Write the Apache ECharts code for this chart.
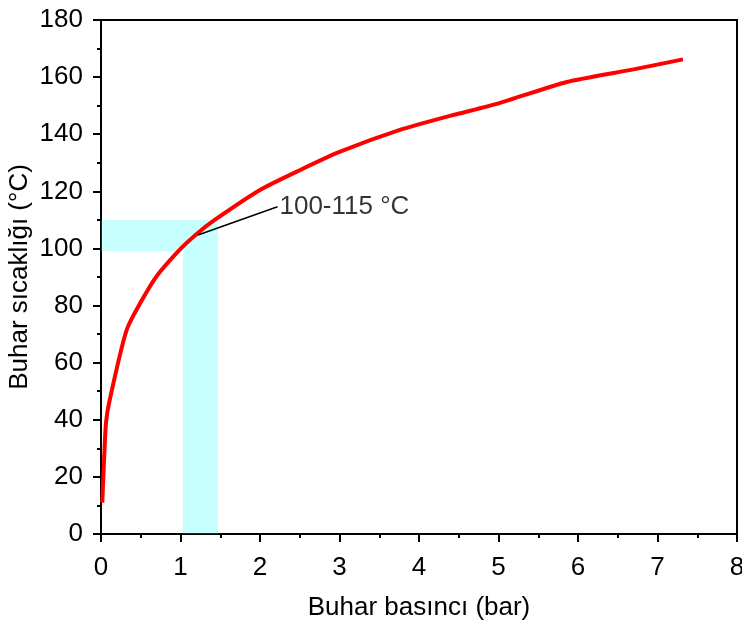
<!DOCTYPE html>
<html>
<head>
<meta charset="utf-8">
<script src="https://cdn.jsdelivr.net/npm/echarts@6/dist/echarts.min.js"></script>
<style>
  html, body { margin: 0; padding: 0; background: #fff; }
  #chart { width: 742px; height: 624px; }
</style>
</head>
<body>
<div id="chart"></div>
<script>
// buhar basıncı (bar) ve buhar sıcaklığı (°C)
const pressure = [0.016, 0.04, 0.063, 0.11, 0.33, 0.68, 0.97, 1.2, 1.43, 2.0, 2.5, 3.0, 3.76, 4.4, 5.0, 5.86, 6.7, 7.32]
const temperature = [11, 27, 39, 47, 72, 89.5, 99, 105, 110, 120.5, 127.4, 133.8, 141.5, 146.5, 150.8, 158.3, 162.7, 166.2]

// vurgulanan bölge
const bandX = [1.03, 1.47]
const bandY = [99, 110]

// açıklama çizgisi
const notePoints = [[1.22, 104.7], [2.22, 114.6]]
const noteText = '100-115 °C'

const xTicks = [0, 8, 1]
const yTicks = [0, 180, 20]

const font = '"Liberation Sans", Arial, sans-serif'
const chart = echarts.init(document.getElementById('chart'))

const axisCommon = {
  axisLine: { show: true, onZero: false, lineStyle: { color: '#000', width: 2 } },
  axisTick: { show: true, inside: false, length: 8, lineStyle: { color: '#000', width: 2 } },
  minorTick: { show: true, splitNumber: 2, length: 4, lineStyle: { color: '#000', width: 2 } },
  splitLine: { show: false },
  axisLabel: { color: '#000', fontSize: 26, fontFamily: font, margin: 18 },
  nameTextStyle: { color: '#000', fontSize: 26, fontFamily: font },
  nameMoveOverlap: false
}

chart.setOption({
  animation: false,
  grid: {
    left: 101, right: 5, top: 20, bottom: 90,
    containLabel: false,
    outerBoundsMode: 'none',
    show: true, borderColor: '#000', borderWidth: 2
  },
  xAxis: {
    ...axisCommon,
    type: 'value',
    min: xTicks[0], max: xTicks[1], interval: xTicks[2],
    name: 'Buhar basıncı (bar)',
    nameLocation: 'middle',
    nameGap: 61,
    axisLabel: { ...axisCommon.axisLabel, margin: 21 }
  },
  yAxis: {
    ...axisCommon,
    type: 'value',
    min: yTicks[0], max: yTicks[1], interval: yTicks[2],
    name: 'Buhar sıcaklığı (°C)',
    nameLocation: 'middle',
    nameGap: 68
  },
  series: [
    {
      type: 'line',
      data: pressure.map((p, i) => [p, temperature[i]]),
      showSymbol: false,
      smooth: 0.2,
      lineStyle: { color: '#ff0000', width: 4 },
      z: 2
    },
    {
      type: 'line',
      data: [],
      z: 5,
      markArea: {
        silent: true,
        itemStyle: { color: 'rgba(0,255,255,0.22)' },
        data: [
          [{ coord: [0, bandY[0]] }, { coord: [bandX[1], bandY[1]] }],
          [{ coord: [bandX[0], 0] }, { coord: [bandX[1], bandY[0]] }]
        ]
      }
    },
    {
      type: 'line',
      data: notePoints,
      showSymbol: false,
      lineStyle: { color: '#000', width: 1.5 },
      z: 6
    },
    {
      type: 'scatter',
      data: [notePoints[1]],
      symbolSize: 0,
      z: 6,
      label: {
        show: true,
        position: 'right',
        distance: 2,
        formatter: noteText,
        color: '#000',
        fontSize: 26,
        fontFamily: font
      }
    }
  ]
})
</script>
</body>
</html>
